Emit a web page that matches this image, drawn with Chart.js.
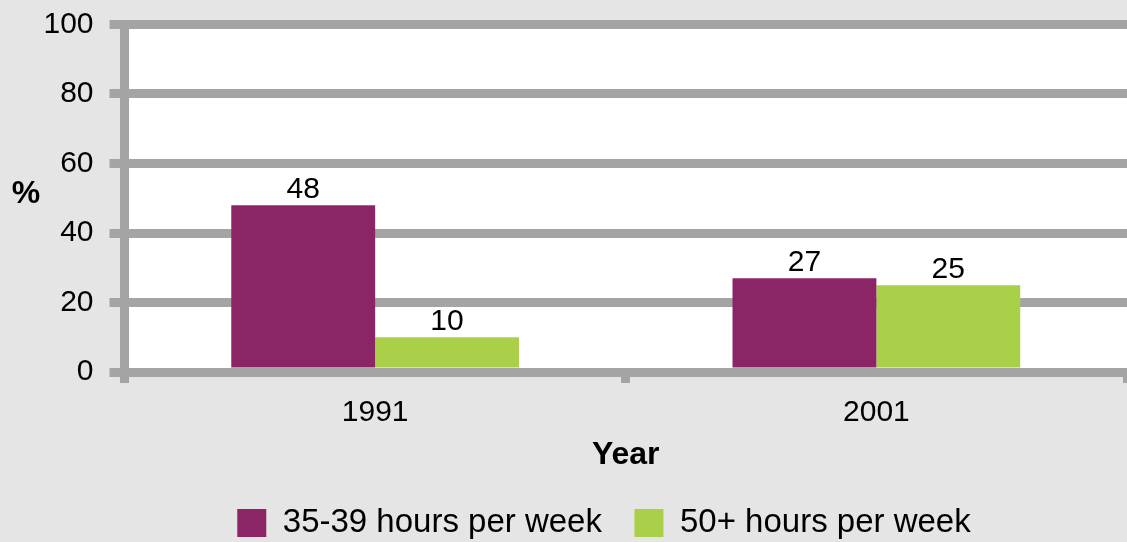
<!DOCTYPE html>
<html>
<head>
<meta charset="utf-8">
<script src="https://cdn.jsdelivr.net/npm/chart.js@4"></script>
<style>
  html, body { margin: 0; padding: 0; background: #e5e5e5; }
  #wrap { width: 1127px; height: 542px; }
</style>
</head>
<body>
<div id="wrap"><canvas id="hoursChart"></canvas></div>
<script>
const years = ["1991", "2001"];
const hours35to39 = [48, 27];
const hours50plus = [10, 25];
const seriesNames = ["35-39 hours per week", "50+ hours per week"];
const yTicks = [0, 20, 40, 60, 80, 100];

const gridGrey = "#a4a4a4";
const fontFamily = "'Liberation Sans', Arial, sans-serif";

// fondo gris + area blanca del grafico
const backgroundPlugin = {
  id: "bg",
  beforeDraw(chart) {
    const { ctx, chartArea } = chart;
    ctx.save();
    ctx.fillStyle = "#e5e5e5";
    ctx.fillRect(0, 0, chart.width, chart.height);
    ctx.fillStyle = "#ffffff";
    ctx.fillRect(chartArea.left, chartArea.top, chartArea.right - chartArea.left, chartArea.bottom - chartArea.top);
    ctx.restore();
  },
  // la leyenda no esta centrada en el lienzo, la corro a la derecha
  afterLayout(chart) {
    if (chart.legend) chart.legend.left = 81;
  },
};

// valores encima de cada barra + el "%" del eje
const labelsPlugin = {
  id: "valueLabels",
  afterDraw(chart) {
    const { ctx, chartArea } = chart;
    ctx.save();
    ctx.fillStyle = "#000";
    ctx.font = "30px " + fontFamily;
    ctx.textAlign = "center";
    ctx.textBaseline = "alphabetic";
    chart.data.datasets.forEach((ds, i) => {
      chart.getDatasetMeta(i).data.forEach((bar, j) => {
        ctx.fillText(String(ds.data[j]), bar.x, bar.y - 7);
      });
    });
    ctx.font = "bold 32px " + fontFamily;
    ctx.textBaseline = "middle";
    ctx.fillText("%", 26, (chartArea.top + chartArea.bottom) / 2 - 4);
    ctx.restore();
  },
};

const ctx = document.getElementById("hoursChart").getContext("2d");
new Chart(ctx, {
  type: "bar",
  data: {
    labels: years,
    datasets: [
      {
        label: seriesNames[0],
        data: hours35to39,
        backgroundColor: "#8b2566",
        borderWidth: 0,
      },
      {
        label: seriesNames[1],
        data: hours50plus,
        backgroundColor: "#aacf48",
        borderWidth: 0,
      },
    ],
  },
  options: {
    responsive: true,
    maintainAspectRatio: false,
    animation: false,
    layout: { padding: { left: 0, top: 24.5, right: 0, bottom: -7.5 } },
    datasets: {
      bar: { barPercentage: 1, categoryPercentage: 0.574 },
    },
    plugins: {
      tooltip: { enabled: false },
      legend: {
        position: "bottom",
        labels: {
          color: "#000",
          font: { family: fontFamily, size: 33 },
          boxWidth: 29,
          boxHeight: 28,
          padding: 32.5,
        },
      },
    },
    scales: {
      x: {
        afterFit(scale) {
          scale.height = 102;
        },
        grid: {
          display: true,
          drawOnChartArea: false,
          offset: true,
          tickLength: 11,
          lineWidth: 9,
          color: gridGrey,
        },
        border: { display: true, width: 9, color: gridGrey, z: 1 },
        ticks: {
          color: "#000",
          font: { family: fontFamily, size: 30 },
          padding: 12,
        },
        title: {
          display: true,
          text: "Year",
          color: "#000",
          font: { family: fontFamily, size: 32, weight: "bold" },
          padding: { top: 5, bottom: 0 },
        },
      },
      y: {
        min: 0,
        max: 100,
        afterBuildTicks(scale) {
          scale.ticks = yTicks.map((v) => ({ value: v }));
        },
        afterFit(scale) {
          scale.width = 124.5;
          scale.paddingTop = 0;
          scale.paddingBottom = 0;
        },
        grid: {
          lineWidth: 9,
          color: gridGrey,
          tickLength: 15,
        },
        border: { display: true, width: 9, color: gridGrey },
        ticks: {
          color: "#000",
          font: { family: fontFamily, size: 30 },
          padding: 16,
        },
      },
    },
  },
  plugins: [backgroundPlugin, labelsPlugin],
});
</script>
</body>
</html>
